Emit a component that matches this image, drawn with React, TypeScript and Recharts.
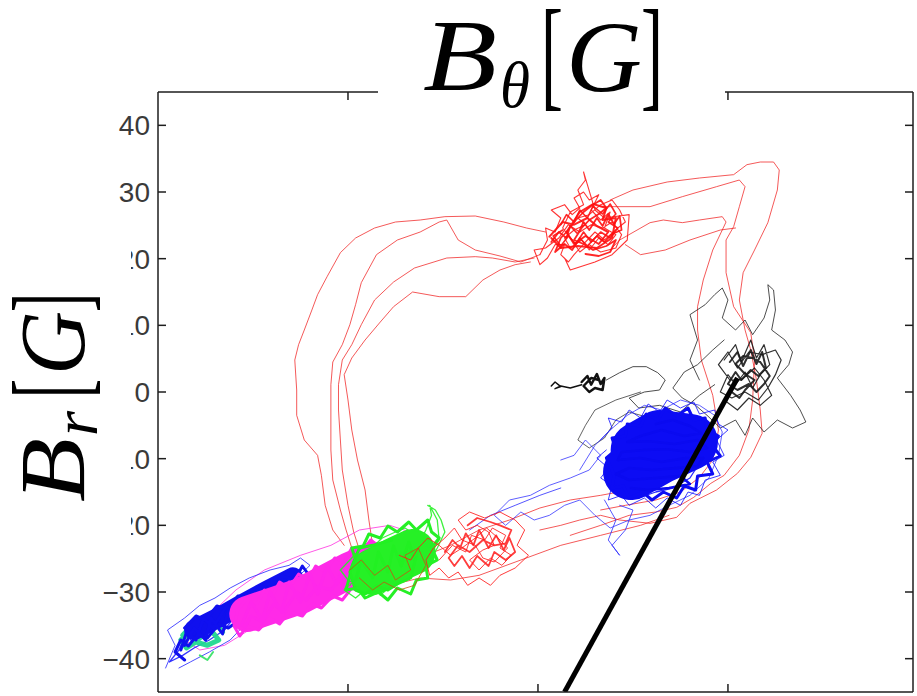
import React from 'react';
import { ComposedChart, Line, XAxis, YAxis } from 'recharts';

type P = [number, number];

// Axis ticks (B_theta and B_r, in G)
const xTicks = [-10, 0, 10];
const yTicks = [-40, -30, -20, -10, 0, 10, 20, 30, 40];

// Red trajectories climbing from the lower band to the upper branch
const redUp1: P[] = [[-10.2,-23.0],[-10.8,-20.7],[-11.2,-17.0],[-11.4,-12.5],[-11.6,-9.5],[-12.3,-7.2],[-12.7,-3.5],[-12.7,0.3],[-12.8,4.8],[-12.6,7.1],[-12.3,9.3],[-11.9,12.3],[-11.6,14.6],[-11.1,17.3],[-10.4,20.9],[-9.6,23.1],[-8.6,24.6],[-7.5,25.5],[-6.2,25.8],[-4.9,26.3],[-3.3,26.4],[-1.8,25.5],[-0.6,24.6],[0.4,24.0]];
const redUp2: P[] = [[-9.8,-23.4],[-10.1,-20.7],[-10.4,-17.7],[-10.8,-13.2],[-10.9,-8.7],[-10.9,-4.2],[-10.9,1.1],[-10.8,4.5],[-10.3,7.1],[-9.9,10.1],[-9.6,13.1],[-9.3,16.4],[-8.5,20.6],[-7.4,22.8],[-6.2,24.0],[-5.2,25.5],[-4.8,25.8],[-4.2,22.8],[-3.3,21.3],[-2.0,20.4],[-0.9,19.5],[0.1,20.6]];
const redUp3: P[] = [[-9.4,-23.7],[-9.7,-21.0],[-10.0,-17.0],[-10.3,-11.7],[-10.4,-7.2],[-10.5,-2.7],[-10.5,1.1],[-10.3,4.8],[-9.8,7.1],[-9.3,10.1],[-8.6,13.8],[-7.6,16.5],[-6.5,18.6],[-4.8,20.1],[-3.3,20.3],[-2.4,20.1],[-1.2,19.5],[-0.2,20.1]];
const redUp4: P[] = [[-8.7,-23.0],[-8.9,-19.2],[-9.1,-14.7],[-9.5,-10.2],[-9.8,-5.7],[-10.0,-1.2],[-10.2,2.6],[-9.8,5.1],[-9.1,7.8],[-8.3,10.5],[-7.6,12.8],[-6.6,15.0],[-5.2,14.3],[-3.8,14.3],[-2.9,16.8],[-2.0,18.3],[-1.2,19.1],[-0.4,19.5]];

// Dense red cloud on the upper branch
const redTopA: P[] = [[0.1,20.6],[0.5,22.8],[0.4,24.6],[0.9,24.0],[1.2,26.1],[0.7,27.3],[1.4,28.1],[1.8,26.6],[2.2,27.6],[1.9,29.1],[2.4,30.0],[2.7,28.8],[3.2,29.6],[2.8,27.3],[3.3,25.8],[3.8,27.0],[3.5,24.6],[4.1,23.6],[3.7,22.1],[3.2,23.1],[2.7,21.3],[2.3,22.8],[1.7,21.6],[1.4,23.1],[1.9,24.3],[2.5,25.1],[2.1,26.1],[2.7,26.6],[3.3,28.1],[3.9,28.8],[4.3,27.3],[4.6,25.5],[4.2,24.6],[3.5,22.8],[3.0,24.0],[2.5,22.5],[1.9,20.6],[1.6,19.5],[1.2,20.6],[1.4,22.1],[0.9,22.1],[0.5,20.1],[0.1,19.1],[-0.2,21.3],[0.4,21.6],[1.1,23.1],[1.6,25.1],[2.2,24.0],[2.8,25.1],[3.4,24.6],[3.9,25.5],[4.4,23.6],[4.1,21.6],[3.3,21.0],[2.7,22.1],[2.2,21.0],[1.8,22.8],[1.3,24.6],[1.7,27.0],[2.4,28.1],[2.1,30.3],[2.5,31.8],[2.4,33.0],[2.6,31.1],[3.0,27.3],[3.5,26.1],[4.8,26.6],[4.7,22.8],[3.9,20.6],[3.0,19.5],[1.7,18.3],[1.4,20.1]];
const redTopB: P[] = [[0.6,23.3],[1.3,25.5],[1.9,25.1],[2.6,26.1],[3.1,24.9],[3.7,24.0],[3.2,22.2],[2.5,23.4],[1.9,22.2],[1.5,24.0],[2.2,27.0],[2.9,28.2],[3.6,27.6],[3.4,25.8],[4.1,26.1],[3.9,23.1],[3.1,21.6],[2.1,21.9],[1.2,21.6],[0.7,23.1]];
const redTopC: P[] = [[0.7,22.5],[1.1,24.0],[1.5,23.1],[1.7,24.9],[2.1,23.7],[2.4,25.5],[2.7,24.3],[3.1,26.1],[3.4,24.9],[3.7,26.7],[4.0,25.2],[4.3,26.4],[4.4,24.3],[3.9,23.7],[3.5,22.5],[3.1,23.4],[2.6,21.9],[2.2,23.1],[1.8,21.3],[1.4,22.2],[0.9,21.0],[1.2,23.1],[1.6,24.3],[2.0,25.8],[2.4,27.0],[2.8,27.9],[3.3,28.8],[3.6,27.6],[3.2,26.7],[2.7,25.8],[2.3,24.6],[1.9,22.8],[2.4,22.2],[2.9,21.3],[3.6,21.9],[4.1,22.8],[3.8,21.0],[3.2,20.4],[2.5,20.7]];
const redTopD: P[] = [[1.2,25.1],[1.5,26.6],[1.9,25.5],[2.2,27.3],[2.6,26.1],[2.9,27.9],[3.4,26.7],[3.8,28.2],[4.1,26.7],[3.7,25.5],[4.2,24.6],[3.8,23.1],[3.3,24.0],[2.8,22.5],[2.4,24.0],[2.0,22.2],[1.6,23.4],[1.2,21.9],[0.8,23.4],[1.3,24.3]];

// Red trajectories returning down the right-hand side
const redDown1: P[] = [[3.8,28.8],[5.0,30.3],[6.8,31.5],[8.5,32.1],[10.3,32.6],[11.0,34.1],[11.7,34.5],[12.4,34.5],[12.7,33.3],[12.6,30.3],[12.1,25.4],[11.4,21.3],[10.8,17.9],[10.6,13.8],[10.9,9.3],[11.2,6.3],[11.5,1.8],[11.7,-2.7],[11.8,-6.2],[11.2,-9.8],[10.5,-12.2],[9.4,-14.7],[8.0,-16.7],[7.3,-18.8],[5.9,-19.7],[4.3,-19.2],[3.3,-18.5],[2.2,-19.2],[1.2,-20.0],[0.1,-20.7]];
const redDown2: P[] = [[3.3,27.8],[5.9,27.8],[7.6,29.3],[9.4,30.8],[10.6,31.8],[10.9,30.8],[10.6,27.8],[10.3,24.8],[9.9,22.8],[9.9,17.9],[10.3,12.8],[11.2,8.9],[11.4,4.8],[11.3,-1.2],[11.1,-5.7],[10.6,-9.5],[9.8,-12.5],[9.1,-13.7],[8.2,-15.8],[7.3,-17.3],[6.2,-18.0],[4.8,-18.5],[3.3,-20.0],[1.7,-21.5]];
const redDown3: P[] = [[3.9,21.6],[4.3,22.8],[5.9,25.4],[6.6,25.8],[7.6,25.4],[8.5,25.8],[9.7,26.3],[9.9,25.5],[9.2,21.3],[8.7,16.8],[8.4,12.8],[8.4,9.3],[8.6,4.8],[9.2,-0.5],[9.5,-5.7],[9.2,-10.2],[8.5,-12.8],[7.5,-15.0],[6.2,-16.2],[4.6,-17.0],[3.3,-17.7]];
const redLoop: P[] = [[4.6,22.1],[5.4,20.6],[6.7,21.3],[8.0,22.8],[9.6,24.3],[10.4,24.6]];

// Red trajectories along the lower band
const redBand1: P[] = [[-8.1,-27.5],[-7.0,-26.4],[-5.9,-24.5],[-4.6,-23.0],[-3.1,-20.7],[-1.5,-19.2],[0.1,-17.4],[1.7,-16.2],[3.3,-15.5],[4.8,-14.7],[6.4,-13.2],[8.0,-11.7],[9.1,-9.5]];
const redBand2: P[] = [[-9.4,-29.0],[-7.8,-29.0],[-6.2,-27.9],[-4.6,-28.2],[-3.1,-27.5],[-0.9,-25.2],[1.2,-23.0],[3.3,-21.5],[5.4,-20.0],[6.9,-18.5]];
const redInGreen: P[] = [[-9.9,-26.7],[-9.3,-25.2],[-8.6,-27.5],[-7.9,-26.0],[-7.5,-28.2],[-6.7,-26.7],[-7.0,-24.5],[-6.3,-23.4],[-5.9,-26.0],[-6.5,-29.0],[-7.3,-29.7],[-8.1,-28.5],[-8.7,-29.7],[-9.4,-27.9]];
const redLow: P[] = [[-5.2,-25.2],[-4.5,-23.0],[-3.8,-24.0],[-3.5,-21.5],[-2.8,-22.2],[-2.4,-20.4],[-1.7,-21.5],[-2.0,-23.4],[-1.4,-24.5],[-1.9,-26.0],[-2.5,-24.9],[-3.1,-26.7],[-3.6,-25.2],[-2.9,-23.7],[-2.3,-23.0],[-2.6,-21.0],[-3.2,-20.0],[-3.8,-20.7],[-4.2,-19.2],[-3.6,-18.0],[-2.8,-18.9],[-2.0,-18.0],[-1.2,-19.2],[-0.7,-20.7],[-1.1,-23.0],[-0.5,-24.5],[-1.2,-26.4],[-2.0,-27.5],[-2.5,-29.0],[-3.1,-27.9],[-3.7,-29.0],[-4.2,-27.0],[-4.7,-27.9],[-5.2,-26.4],[-5.7,-27.5],[-5.9,-25.2],[-5.5,-23.4],[-4.9,-21.9],[-4.4,-20.4],[-4.0,-22.2],[-3.3,-23.0],[-2.9,-24.9],[-2.3,-25.5],[-1.6,-23.4],[-2.1,-21.9],[-2.7,-20.4],[-3.3,-21.9],[-4.0,-23.4],[-4.6,-24.5],[-5.2,-23.0],[-5.8,-21.9],[-6.3,-23.4],[-6.7,-25.2],[-7.3,-24.5]];
const redLowB: P[] = [[-4.9,-24.0],[-4.5,-22.2],[-4.1,-23.4],[-3.8,-21.2],[-3.4,-23.0],[-3.1,-20.7],[-2.6,-23.4],[-2.2,-21.5],[-1.8,-23.7],[-1.5,-21.9],[-1.2,-24.0],[-1.7,-25.2],[-2.3,-24.0],[-2.6,-26.1],[-3.2,-24.6],[-3.6,-26.4],[-4.0,-24.6],[-4.4,-26.1],[-4.7,-24.9],[-4.2,-23.0],[-3.6,-24.0],[-2.9,-22.2],[-2.3,-23.0],[-1.7,-22.7],[-1.4,-20.7],[-2.0,-20.0],[-2.5,-19.5],[-3.2,-18.9],[-3.7,-20.0]];

// Green cloud in the middle of the lower band
const greenSpine: P[] = [[-8.7,-27.0],[-7.5,-25.2],[-6.6,-24.0]];
const greenEdge: P[] = [[-9.9,-27.5],[-9.6,-25.2],[-9.8,-23.4],[-9.2,-23.1],[-8.9,-21.3],[-8.3,-21.9],[-7.9,-20.1],[-7.4,-21.0],[-6.8,-19.5],[-6.4,-20.7],[-5.8,-19.2],[-5.6,-21.0],[-5.2,-21.9],[-5.6,-23.4],[-5.3,-25.2],[-5.9,-26.1],[-5.8,-27.9],[-6.4,-28.2],[-6.7,-30.3],[-7.4,-29.4],[-7.9,-31.2],[-8.4,-30.0],[-9.1,-30.9],[-9.5,-29.4],[-10.1,-29.7],[-9.9,-27.5]];
const greenCore: P[] = [[-9.6,-28.2],[-9.3,-25.2],[-8.7,-27.9],[-8.4,-24.0],[-7.9,-27.0],[-7.6,-23.1],[-7.2,-26.1],[-6.8,-22.5],[-6.5,-25.2],[-6.3,-23.4],[-6.7,-27.9],[-7.4,-28.8],[-7.9,-29.7],[-8.5,-29.1],[-9.1,-30.3],[-9.6,-29.7],[-9.9,-27.0],[-9.4,-23.4],[-8.7,-23.0],[-7.7,-22.2]];
const greenFray: P[] = [[-9.9,-29.0],[-9.3,-26.7],[-9.6,-24.9],[-8.8,-24.0],[-8.4,-26.0],[-7.8,-24.5],[-8.1,-22.5],[-7.4,-21.9],[-7.0,-23.7],[-6.3,-23.0],[-5.9,-20.7],[-5.6,-18.5],[-5.7,-17.0],[-5.3,-19.2],[-5.2,-22.2],[-5.7,-24.5],[-6.2,-26.0],[-6.7,-27.9],[-7.4,-26.7],[-7.7,-29.0],[-8.3,-30.5],[-8.1,-28.2],[-8.7,-27.9],[-9.1,-29.7],[-9.6,-30.9],[-10.2,-29.7],[-9.8,-27.5],[-8.9,-25.7],[-8.3,-23.4],[-7.7,-23.0],[-7.3,-25.2],[-6.6,-24.5],[-6.1,-23.7],[-6.4,-21.5],[-7.0,-20.4],[-7.5,-21.0],[-8.2,-21.9],[-8.6,-23.0],[-9.3,-23.4],[-9.9,-25.2],[-10.4,-26.7],[-10.0,-28.2],[-9.4,-29.0],[-8.6,-26.4],[-7.9,-27.0],[-7.1,-27.5],[-6.5,-27.0],[-5.8,-26.0],[-5.3,-23.4],[-4.9,-21.0],[-5.1,-19.2],[-5.4,-17.7],[-5.8,-17.0]];

// Magenta cloud
const magentaSpine: P[] = [[-15.3,-33.3],[-12.5,-30.6],[-9.9,-26.7],[-8.7,-25.2]];
const magentaEdge: P[] = [[-15.8,-32.7],[-15.3,-30.9],[-14.8,-31.8],[-14.4,-29.7],[-14.0,-30.6],[-13.6,-28.5],[-13.1,-29.4],[-12.6,-27.3],[-12.1,-28.2],[-11.7,-26.1],[-11.2,-27.0],[-10.7,-24.9],[-10.2,-25.5],[-9.8,-23.4],[-9.3,-24.0],[-8.8,-22.2],[-8.4,-23.1],[-8.1,-24.6],[-8.5,-26.1],[-8.2,-27.6],[-8.8,-28.2],[-9.3,-30.0],[-9.8,-29.4],[-10.3,-31.2],[-10.8,-30.6],[-11.4,-32.4],[-11.9,-31.8],[-12.4,-33.6],[-13.1,-33.0],[-13.6,-34.8],[-14.1,-33.9],[-14.7,-35.7],[-15.3,-35.1],[-15.7,-36.6],[-16.0,-35.1],[-15.8,-32.7]];
const magentaCore: P[] = [[-15.6,-35.0],[-15.1,-31.5],[-14.5,-34.2],[-14.1,-30.0],[-13.5,-33.0],[-13.1,-28.5],[-12.5,-31.5],[-12.0,-27.3],[-11.6,-30.3],[-11.1,-26.1],[-10.6,-28.8],[-10.1,-24.9],[-9.8,-27.0],[-9.3,-24.0],[-9.6,-26.1],[-10.4,-28.2],[-10.9,-29.7],[-11.6,-29.1],[-12.2,-31.2],[-12.7,-30.0],[-13.4,-33.0],[-13.9,-31.8],[-14.5,-34.5],[-15.1,-33.6],[-15.5,-35.7]];
const magentaFray: P[] = [[-15.4,-35.0],[-14.9,-31.2],[-14.5,-33.5],[-14.1,-29.7],[-13.6,-33.0],[-13.2,-29.0],[-12.7,-32.0],[-12.3,-27.9],[-11.9,-31.2],[-11.5,-27.0],[-11.1,-30.0],[-10.6,-26.0],[-10.2,-29.0],[-9.8,-24.9],[-9.4,-27.5],[-8.9,-23.4],[-8.6,-25.2],[-8.3,-23.0],[-8.8,-26.0],[-9.5,-28.5],[-9.9,-26.4],[-10.4,-29.7],[-10.9,-27.9],[-11.5,-30.9],[-12.0,-29.0],[-12.5,-32.4],[-13.1,-30.5],[-13.7,-34.2],[-14.2,-32.0],[-14.9,-35.7],[-15.3,-33.5],[-15.7,-35.7]];
const magentaHalo: P[] = [[-17.3,-33.5],[-15.9,-29.7],[-14.4,-26.7],[-12.5,-24.5],[-10.9,-23.0],[-9.4,-20.7],[-7.8,-20.0],[-6.2,-21.5],[-7.3,-23.4],[-8.8,-25.2],[-10.4,-27.5],[-12.0,-30.5],[-13.6,-33.0],[-15.2,-35.7],[-16.5,-38.0],[-17.8,-38.7],[-18.6,-37.2]];

// Blue cloud at the lower-left end
const blueLeftSpine: P[] = [[-18.1,-35.7],[-16.8,-33.8],[-15.5,-31.7],[-14.2,-29.7],[-12.9,-27.8]];
const blueLeftEdge: P[] = [[-18.6,-35.4],[-18.0,-33.6],[-17.5,-34.2],[-16.9,-32.1],[-16.3,-32.7],[-15.8,-30.6],[-15.2,-31.2],[-14.6,-29.1],[-14.0,-29.7],[-13.5,-27.6],[-12.8,-28.2],[-12.4,-26.1],[-12.1,-27.3],[-12.5,-29.1],[-15.7,-34.2],[-16.3,-35.4],[-16.8,-34.8],[-17.4,-36.9],[-17.9,-36.3],[-18.4,-38.1],[-18.8,-37.2],[-19.1,-39.0],[-18.6,-40.2]];
const blueLeftCore: P[] = [[-18.6,-38.0],[-18.1,-35.4],[-17.5,-37.2],[-17.2,-33.9],[-16.6,-36.3],[-16.3,-32.7],[-15.7,-35.1],[-15.5,-31.2],[-14.8,-33.6],[-14.5,-30.0],[-14.0,-32.1],[-13.7,-28.7],[-13.1,-30.5],[-12.7,-27.0],[-12.4,-28.5],[-13.1,-27.9],[-13.6,-31.2],[-14.2,-29.4],[-14.7,-32.4],[-15.4,-30.6],[-15.9,-33.9],[-16.4,-32.1],[-17.1,-35.4],[-17.6,-33.9],[-18.0,-37.2],[-18.5,-36.0],[-18.8,-38.7]];
const blueLeftFray: P[] = [[-18.3,-37.2],[-17.8,-34.2],[-17.3,-36.0],[-16.8,-32.4],[-16.3,-34.5],[-15.9,-30.9],[-15.4,-33.0],[-14.9,-29.7],[-14.5,-31.8],[-14.1,-28.5],[-13.7,-30.6],[-13.3,-27.5],[-12.8,-29.4],[-12.5,-27.0],[-13.1,-28.2],[-13.6,-31.5],[-14.2,-30.0],[-14.7,-33.0],[-15.3,-31.2],[-15.8,-34.2],[-16.3,-32.4],[-16.8,-35.4],[-17.4,-33.5],[-17.9,-36.9],[-18.4,-35.4],[-18.9,-38.7],[-19.4,-40.5],[-18.7,-39.5],[-18.1,-38.4],[-17.3,-37.2],[-16.5,-35.7],[-15.7,-32.7]];
const blueLeftHalo: P[] = [[-19.6,-41.4],[-19.1,-38.0],[-19.5,-35.7],[-18.6,-33.9],[-17.8,-32.0],[-17.0,-30.9],[-16.2,-29.4],[-15.2,-27.9],[-14.1,-26.7],[-13.1,-26.0],[-12.5,-24.9],[-12.0,-26.0],[-12.8,-28.2],[-14.1,-31.2],[-15.2,-34.2],[-16.2,-37.2],[-17.3,-39.0],[-18.3,-40.5],[-18.9,-41.4]];

// Teal patch beneath the left blue cloud
const tealLeft: P[] = [[-18.7,-36.5],[-18.2,-35.0],[-17.8,-36.9],[-17.3,-35.4],[-16.8,-37.2],[-17.4,-38.0],[-18.0,-37.5],[-18.5,-38.4],[-18.8,-37.2],[-18.3,-36.0],[-17.5,-35.7],[-17.0,-34.5],[-16.6,-36.0]];
const tealSpeck: P[] = [[-17.8,-39.5],[-17.4,-40.2],[-17.1,-39.0]];

// Blue cloud on the upper-right end of the band
const blueRightSpine: P[] = [[4.9,-12.0],[6.4,-9.6],[8.0,-7.5],[6.4,-6.9],[5.3,-8.7]];
const blueRightEdge: P[] = [[3.9,-11.7],[3.6,-9.9],[4.1,-8.7],[3.9,-6.9],[4.6,-6.6],[4.7,-4.8],[5.4,-5.1],[5.7,-3.3],[6.3,-4.2],[6.7,-2.4],[7.3,-3.6],[7.9,-2.4],[8.2,-4.2],[8.8,-3.9],[8.9,-5.7],[9.5,-6.6],[9.2,-8.1],[9.6,-9.6],[8.9,-10.5],[9.2,-12.3],[8.4,-12.6],[8.3,-14.7],[7.7,-14.1],[7.3,-15.9],[6.6,-15.0],[6.0,-16.2],[5.5,-15.0],[4.8,-15.9],[4.5,-14.1],[3.9,-14.4],[4.0,-12.6],[3.9,-11.7]];
const blueRightCore: P[] = [[6.2,-4.8],[7.1,-4.2],[8.0,-5.1],[8.6,-6.2],[7.7,-6.6],[6.5,-5.7],[5.4,-6.6],[4.7,-7.5],[5.9,-7.4],[7.2,-7.8],[8.4,-7.2],[8.9,-8.4],[8.0,-9.0],[6.8,-8.6],[5.6,-8.7],[4.4,-9.0],[4.2,-10.2],[5.4,-9.9],[6.5,-10.5],[7.8,-9.9],[8.7,-9.9],[8.4,-11.1],[7.3,-11.4],[6.0,-11.7],[4.8,-11.4],[4.1,-12.3],[4.8,-13.2],[6.2,-12.9],[7.5,-12.6],[8.0,-13.8],[6.9,-14.4],[5.8,-14.7],[4.9,-14.4]];
const blueRightMid: P[] = [[4.6,-11.7],[5.1,-8.7],[5.6,-11.0],[6.0,-7.2],[6.4,-9.9],[6.8,-6.0],[7.2,-8.7],[7.7,-5.4],[8.1,-8.0],[8.5,-5.7],[8.8,-8.7],[8.3,-11.0],[7.7,-9.5],[7.4,-12.5],[6.8,-10.5],[6.4,-13.5],[5.9,-11.7],[5.4,-14.4],[4.8,-12.9],[4.3,-14.7],[4.1,-12.5],[4.7,-10.2],[5.4,-8.0],[6.2,-5.7],[6.9,-4.2],[7.9,-3.5],[8.5,-4.2],[9.1,-6.9],[8.6,-10.2],[8.0,-12.9],[7.1,-14.4],[6.2,-15.0],[5.3,-15.9],[4.6,-14.7]];
const blueRightFray: P[] = [[3.3,-7.2],[3.9,-5.4],[3.7,-3.9],[4.4,-4.5],[4.8,-2.7],[5.4,-3.9],[5.8,-1.8],[6.4,-3.0],[6.8,-1.2],[7.5,-2.4],[8.2,-1.5],[8.5,-3.3],[9.3,-2.7],[9.5,-4.8],[10.0,-5.7],[9.4,-7.2],[9.8,-9.5],[9.2,-10.5],[9.6,-12.5],[8.8,-13.2],[8.5,-15.5],[7.9,-15.0],[7.5,-17.0],[6.8,-15.9],[6.2,-17.4],[5.6,-15.9],[4.8,-17.0],[4.4,-15.5],[3.7,-16.2],[3.9,-14.0],[3.3,-12.9],[3.7,-11.4],[3.1,-9.9],[3.6,-8.7]];
const blueRightHalo: P[] = [[2.2,-11.7],[3.0,-8.0],[3.8,-5.7],[4.7,-3.5],[5.6,-2.0],[6.5,-2.7],[7.5,-1.2],[8.5,-2.0],[9.3,-3.5],[9.7,-6.0],[9.5,-9.5],[9.0,-12.9],[8.0,-15.5],[6.9,-17.0],[5.9,-18.5],[4.8,-19.2],[3.8,-20.4],[3.0,-18.5],[2.2,-16.2],[1.4,-17.0],[0.6,-18.5],[-0.2,-19.2],[-0.9,-18.0],[-1.7,-20.0],[-2.3,-18.5],[-1.5,-16.2],[-0.4,-15.5],[0.6,-14.0],[1.7,-12.9],[2.7,-11.7],[3.3,-9.5],[2.5,-7.2],[1.9,-9.5],[1.2,-10.2]];
const blueTail: P[] = [[3.5,-16.2],[4.1,-19.2],[3.7,-22.2],[4.3,-24.5],[3.9,-23.0],[4.6,-20.7],[5.0,-17.7],[4.3,-17.0]];
const blueBand: P[] = [[-3.6,-20.7],[-2.5,-18.5],[-1.2,-17.0],[0.1,-15.5],[1.2,-14.4]];

// Black cloud and its excursions
const blackCore: P[] = [[9.8,4.8],[10.4,7.1],[10.7,4.5],[11.2,7.8],[11.5,5.1],[11.9,7.1],[12.2,4.1],[11.7,2.6],[11.3,0.6],[10.9,3.0],[10.4,1.1],[10.0,2.6],[9.6,0.0],[10.2,-0.9],[10.9,0.0],[11.6,-1.2],[12.1,0.6],[12.5,2.6],[12.8,4.8],[12.5,6.3],[11.8,5.6],[11.1,6.0],[10.5,3.6],[10.0,6.0],[9.5,4.1],[10.1,1.8],[10.7,1.8],[11.4,3.6],[11.9,1.8],[12.3,-0.5],[11.7,-2.0],[11.1,-0.9],[10.5,-2.7],[9.8,-1.2]];
const blackCoreB: P[] = [[10.1,4.5],[10.5,6.0],[10.8,3.9],[11.2,6.3],[11.5,4.2],[11.8,6.0],[12.0,3.6],[11.6,2.4],[11.2,3.3],[10.7,1.8],[10.4,3.0],[10.0,1.2],[10.5,0.3],[11.1,1.2],[11.5,0.0],[11.9,1.2],[12.2,2.4],[11.7,4.5],[11.3,5.1],[10.8,5.4],[10.4,4.2],[10.9,2.7],[11.4,1.8],[10.9,0.3],[10.6,-0.9],[10.2,0.0]];
const blackHalo: P[] = [[8.5,1.8],[8.0,4.8],[8.4,7.8],[8.0,11.6],[8.8,13.1],[9.3,14.6],[9.7,15.6],[10.0,13.8],[9.7,11.1],[10.4,9.3],[10.9,10.8],[11.3,8.6],[11.9,11.1],[12.2,13.8],[12.1,16.1],[12.4,15.3],[12.5,12.3],[12.3,9.3],[13.0,7.8],[13.4,6.0],[13.2,4.1],[12.6,2.1],[13.3,-0.5],[13.8,-2.7],[14.1,-4.5],[13.4,-5.4],[12.6,-4.2],[11.9,-6.0],[11.3,-3.9],[10.9,-6.5],[10.4,-4.2],[9.6,-5.4],[8.9,-3.5],[8.3,-2.0],[7.6,-0.9],[7.1,0.6],[7.7,3.0],[8.4,4.1],[9.2,6.3],[9.8,7.8]];
const blackLink: P[] = [[3.6,1.8],[4.3,2.9],[5.0,3.8],[5.7,3.8],[6.3,2.9],[6.7,1.8],[6.4,0.3],[5.6,0.0],[4.8,-0.9],[5.3,-2.4],[6.4,-2.0],[7.5,-3.0],[8.5,-0.5],[9.3,1.1]];
const blackLoop: P[] = [[5.4,0.0],[4.1,-1.2],[3.0,-2.7],[2.5,-5.0],[2.1,-7.2],[2.7,-8.4],[3.5,-6.9],[4.1,-4.2],[4.8,-3.0],[5.9,-3.9],[6.7,-2.7]];
const blackSmall: P[] = [[2.3,1.5],[2.6,2.4],[2.8,1.1],[3.1,2.7],[3.3,1.2],[3.5,2.1],[3.4,0.3],[3.0,0.6],[2.7,0.0],[2.4,0.9],[2.8,2.1],[3.2,1.8]];
const blackSpeck: P[] = [[0.7,0.9],[0.9,1.5],[1.2,0.8],[0.9,0.5],[1.2,0.9],[1.7,0.6],[2.3,1.1]];

// Pointer into the black cloud
const pointer: P[] = [[10.5, 2.1], [1.4, -45]];

interface Trace { key: string; pts: P[]; color: string; width: number; opacity: number; }

const RED = '#f02222';
const traces: Trace[] = [
  { key: 'redUp1', pts: redUp1, color: RED, width: 1, opacity: 0.75 },
  { key: 'redUp2', pts: redUp2, color: RED, width: 1, opacity: 0.75 },
  { key: 'redUp3', pts: redUp3, color: RED, width: 1, opacity: 0.75 },
  { key: 'redUp4', pts: redUp4, color: RED, width: 1, opacity: 0.75 },
  { key: 'redDown1', pts: redDown1, color: RED, width: 1, opacity: 0.75 },
  { key: 'redDown2', pts: redDown2, color: RED, width: 1, opacity: 0.75 },
  { key: 'redDown3', pts: redDown3, color: RED, width: 1, opacity: 0.75 },
  { key: 'redLoop', pts: redLoop, color: RED, width: 1, opacity: 0.75 },
  { key: 'redTopA', pts: redTopA, color: '#ff1010', width: 1.1, opacity: 0.85 },
  { key: 'redTopB', pts: redTopB, color: '#ff1010', width: 2, opacity: 0.9 },
  { key: 'redTopC', pts: redTopC, color: '#ff1010', width: 1.8, opacity: 0.9 },
  { key: 'redTopD', pts: redTopD, color: '#ff1010', width: 1.6, opacity: 0.9 },
  { key: 'redBand1', pts: redBand1, color: RED, width: 1, opacity: 0.75 },
  { key: 'redBand2', pts: redBand2, color: RED, width: 1, opacity: 0.75 },
  { key: 'blackHalo', pts: blackHalo, color: '#222222', width: 1, opacity: 0.8 },
  { key: 'blackLink', pts: blackLink, color: '#222222', width: 1, opacity: 0.8 },
  { key: 'blackLoop', pts: blackLoop, color: '#222222', width: 1, opacity: 0.7 },
  { key: 'blackCore', pts: blackCore, color: '#1a1a1a', width: 1.2, opacity: 0.9 },
  { key: 'blackCoreB', pts: blackCoreB, color: '#1a1a1a', width: 2, opacity: 0.9 },
  { key: 'blackSmall', pts: blackSmall, color: '#111111', width: 2.5, opacity: 1 },
  { key: 'blackSpeck', pts: blackSpeck, color: '#111111', width: 1.5, opacity: 1 },
  { key: 'blueRightHalo', pts: blueRightHalo, color: '#2a2aff', width: 1, opacity: 0.75 },
  { key: 'blueTail', pts: blueTail, color: '#2a2aff', width: 1, opacity: 0.8 },
  { key: 'blueBand', pts: blueBand, color: '#2a2aff', width: 1, opacity: 0.8 },
  { key: 'blueRightFray', pts: blueRightFray, color: '#1a1aff', width: 1, opacity: 0.85 },
  { key: 'blueRightMid', pts: blueRightMid, color: '#1010ff', width: 1.3, opacity: 0.9 },
  { key: 'blueRightSpine', pts: blueRightSpine, color: '#0c0cf4', width: 56, opacity: 1 },
  { key: 'blueRightEdge', pts: blueRightEdge, color: '#0c0cf4', width: 3, opacity: 1 },
  { key: 'blueRightCore', pts: blueRightCore, color: '#0a0af0', width: 2.5, opacity: 1 },
  { key: 'magentaHalo', pts: magentaHalo, color: '#ff30e0', width: 1, opacity: 0.8 },
  { key: 'blueLeftHalo', pts: blueLeftHalo, color: '#3030ff', width: 1, opacity: 0.85 },
  { key: 'blueLeftFray', pts: blueLeftFray, color: '#2020ff', width: 1.3, opacity: 0.9 },
  { key: 'tealLeft', pts: tealLeft, color: '#20d890', width: 5, opacity: 0.95 },
  { key: 'tealSpeck', pts: tealSpeck, color: '#30e060', width: 2, opacity: 0.9 },
  { key: 'blueLeftSpine', pts: blueLeftSpine, color: '#1010ee', width: 20, opacity: 1 },
  { key: 'blueLeftEdge', pts: blueLeftEdge, color: '#1010ee', width: 3, opacity: 1 },
  { key: 'blueLeftCore', pts: blueLeftCore, color: '#1010f0', width: 3, opacity: 1 },
  { key: 'magentaFray', pts: magentaFray, color: '#ff30e8', width: 1.3, opacity: 0.9 },
  { key: 'magentaSpine', pts: magentaSpine, color: '#ff2ae8', width: 36, opacity: 1 },
  { key: 'magentaEdge', pts: magentaEdge, color: '#ff2ae8', width: 3, opacity: 1 },
  { key: 'magentaCore', pts: magentaCore, color: '#ff28ea', width: 3, opacity: 1 },
  { key: 'greenFray', pts: greenFray, color: '#2af02a', width: 1.3, opacity: 0.9 },
  { key: 'greenSpine', pts: greenSpine, color: '#26f026', width: 46, opacity: 1 },
  { key: 'greenEdge', pts: greenEdge, color: '#26f026', width: 3, opacity: 1 },
  { key: 'greenCore', pts: greenCore, color: '#22f022', width: 3, opacity: 1 },
  { key: 'redInGreen', pts: redInGreen, color: '#c85010', width: 1, opacity: 0.8 },
  { key: 'redLow', pts: redLow, color: '#ff1a1a', width: 1, opacity: 0.85 },
  { key: 'redLowB', pts: redLowB, color: '#ff1a1a', width: 1.8, opacity: 0.85 },
];

const AXIS = '#1e1e1e';
const fmtTick = (v: number) => (v < 0 ? '\u2212' + Math.abs(v) : String(v));

const LeftTick = (props: any) => {
  const { x, y, payload } = props;
  return (
    <g>
      <line x1={x} x2={x + 8} y1={y} y2={y} stroke={AXIS} strokeWidth={1.5} />
      <text x={x - 8} y={y} dy="0.36em" textAnchor="end" fontFamily="'Liberation Sans', Arial, sans-serif" fontSize={28} fill="#3a3a3a">
        {fmtTick(payload.value)}
      </text>
    </g>
  );
};
const RightTick = (props: any) => {
  const { x, y } = props;
  return <line x1={x} x2={x - 8} y1={y} y2={y} stroke={AXIS} strokeWidth={1.5} />;
};
const TopTick = (props: any) => {
  const { x, y } = props;
  return <line x1={x} x2={x} y1={y} y2={y + 8} stroke={AXIS} strokeWidth={1.5} />;
};
const BottomTick = (props: any) => {
  const { x, y } = props;
  return <line x1={x} x2={x} y1={y} y2={y - 8} stroke={AXIS} strokeWidth={1.5} />;
};

const X_DOMAIN: [number, number] = [-20, 19.74];
const Y_DOMAIN: [number, number] = [-45, 45];
const serif = "'Liberation Serif', 'Times New Roman', serif";

export default function App() {
  return (
    <div style={{ position: 'absolute', left: 0, top: 0, width: 917, height: 696, background: '#fff' }}>
      <ComposedChart width={917} height={696} margin={{ top: 90, right: 0, bottom: 2, left: 98 }}>
        <XAxis xAxisId="b" type="number" dataKey="x" domain={X_DOMAIN} ticks={xTicks} allowDataOverflow
          orientation="bottom" height={2} tickSize={0} tickMargin={0} interval={0} tickLine={false}
          axisLine={{ stroke: AXIS, strokeWidth: 1.5 }} tick={<BottomTick />} />
        <XAxis xAxisId="t" type="number" dataKey="x" domain={X_DOMAIN} ticks={xTicks} allowDataOverflow
          orientation="top" height={2} tickSize={0} tickMargin={0} interval={0} tickLine={false}
          axisLine={{ stroke: AXIS, strokeWidth: 1.5 }} tick={<TopTick />} />
        <YAxis yAxisId="l" type="number" dataKey="y" domain={Y_DOMAIN} ticks={yTicks} allowDataOverflow
          orientation="left" width={60} tickSize={0} tickMargin={0} interval={0} tickLine={false}
          axisLine={{ stroke: AXIS, strokeWidth: 1.5 }} tick={<LeftTick />} />
        <YAxis yAxisId="r" type="number" dataKey="y" domain={Y_DOMAIN} ticks={yTicks} allowDataOverflow
          orientation="right" width={4} tickSize={0} tickMargin={0} interval={0} tickLine={false}
          axisLine={{ stroke: AXIS, strokeWidth: 1.5 }} tick={<RightTick />} />
        {traces.map((t) => (
          <Line key={t.key} xAxisId="b" yAxisId="l" data={t.pts.map(([x, y]) => ({ x, y }))} dataKey="y"
            type="linear" stroke={t.color} strokeWidth={t.width} strokeOpacity={t.opacity}
            strokeLinejoin="round" strokeLinecap="round" dot={false} activeDot={false} isAnimationActive={false} />
        ))}
        <Line xAxisId="b" yAxisId="l" data={pointer.map(([x, y]) => ({ x, y }))} dataKey="y" type="linear"
          stroke="#000" strokeWidth={5} dot={false} activeDot={false} isAnimationActive={false} />
      </ComposedChart>
      <svg width={917} height={696} style={{ position: 'absolute', left: 0, top: 0, pointerEvents: 'none' }}>
        <rect x={378} y={0} width={347} height={120} fill="#fff" />
        <g fill="#000" fontFamily={serif}>
          <text x={423} y={90} fontSize={102} fontStyle="italic" textLength={74} lengthAdjust="spacingAndGlyphs">B</text>
          <text x={500} y={107} fontSize={66} fontStyle="italic" textLength={30} lengthAdjust="spacingAndGlyphs">θ</text>
          <text x={541} y={95} fontSize={122} textLength={22} lengthAdjust="spacingAndGlyphs">[</text>
          <text x={566} y={92} fontSize={102} fontStyle="italic" textLength={76} lengthAdjust="spacingAndGlyphs">G</text>
          <text x={641} y={95} fontSize={122} textLength={22} lengthAdjust="spacingAndGlyphs">]</text>
        </g>
        <rect x={0} y={240} width={131} height={305} fill="#fff" />
        <g fill="#000" fontFamily={serif} transform="translate(84,502) rotate(-90)">
          <text x={0} y={0} fontSize={94} fontStyle="italic" textLength={64} lengthAdjust="spacingAndGlyphs">B</text>
          <text x={66} y={13} fontSize={64} fontStyle="italic" textLength={25} lengthAdjust="spacingAndGlyphs">r</text>
          <text x={104} y={2} fontSize={105} textLength={19} lengthAdjust="spacingAndGlyphs">[</text>
          <text x={127} y={0} fontSize={94} fontStyle="italic" textLength={64} lengthAdjust="spacingAndGlyphs">G</text>
          <text x={190} y={2} fontSize={105} textLength={19} lengthAdjust="spacingAndGlyphs">]</text>
        </g>
      </svg>
    </div>
  );
}
